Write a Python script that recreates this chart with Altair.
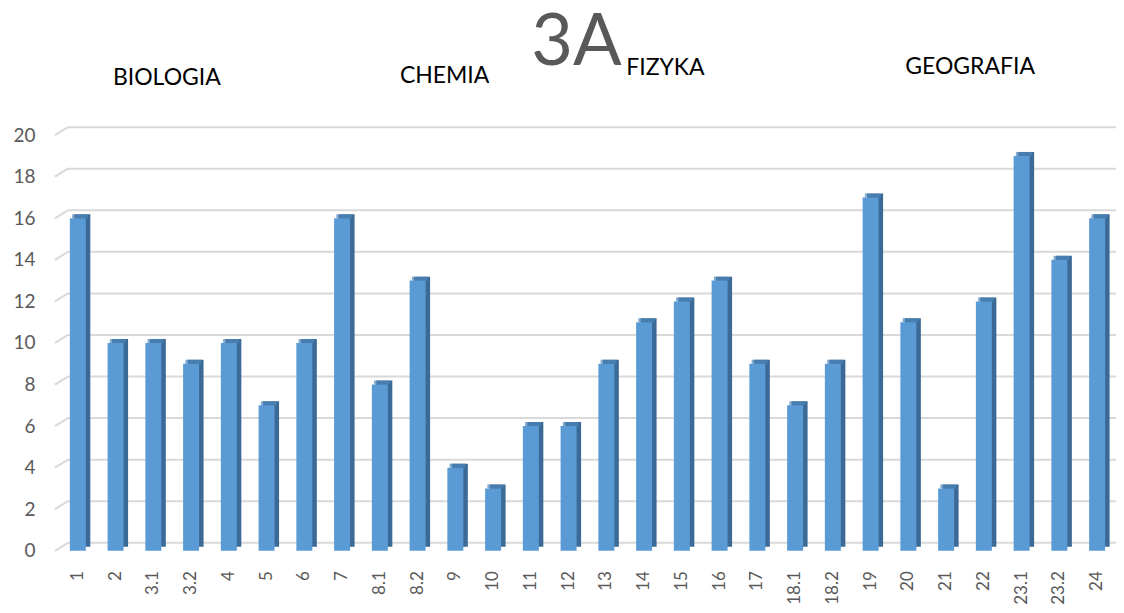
import altair as alt
import pandas as pd

categories = ["1", "2", "3.1", "3.2", "4", "5", "6", "7", "8.1", "8.2", "9", "10",
              "11", "12", "13", "14", "15", "16", "17", "18.1", "18.2", "19", "20",
              "21", "22", "23.1", "23.2", "24"]
values = [16, 10, 10, 9, 10, 7, 10, 16, 8, 13, 4, 3, 6, 6, 9, 11, 12, 13, 9, 7, 9,
          17, 11, 3, 12, 19, 14, 16]
y_ticks = [0, 2, 4, 6, 8, 10, 12, 14, 16, 18, 20]
title_text = "3A"
section_labels = ["BIOLOGIA", "CHEMIA", "FIZYKA", "GEOGRAFIA"]

df = pd.DataFrame({"cat": categories, "val": values})
grid_df = pd.DataFrame({"v": y_ticks})

FONT = "Lato"
W, H = 1058, 416

xenc = alt.X("cat:N", sort=categories,
             scale=alt.Scale(paddingInner=0, paddingOuter=0),
             axis=alt.Axis(title=None, labelAngle=270, labelFontSize=17,
                           labelColor="#595959", labelFont=FONT, labelPadding=20,
                           domain=False, ticks=False, grid=False))
yscale = alt.Scale(domain=[0, 20], nice=False)

grid_h = alt.Chart(grid_df).mark_rule(color="#d9d9d9", strokeWidth=2, yOffset=-8).encode(
    y=alt.Y("v:Q", scale=yscale,
            axis=alt.Axis(title=None, values=y_ticks, labelFontSize=19, labelColor="#595959",
                          labelFont=FONT, labelPadding=24, domain=False, ticks=False,
                          grid=False)),
    x=alt.value(9), x2=alt.value(W + 3))
grid_d = alt.Chart(grid_df).mark_rule(color="#d9d9d9", strokeWidth=2, y2Offset=-8).encode(
    y=alt.Y("v:Q", scale=yscale), y2=alt.Y2("v:Q"),
    x=alt.value(-4), x2=alt.value(9))

base = alt.Chart(df)
side = base.mark_bar(color="#3b6a96", width=16, xOffset=4.5, yOffset=-4).encode(
    x=xenc, y=alt.Y("val:Q", scale=yscale))
top = base.mark_tick(color="#4f86bb", thickness=4, size=16, orient="horizontal",
                     xOffset=2.25, yOffset=-2).encode(
    x=xenc, y=alt.Y("val:Q", scale=yscale))
front = base.mark_bar(color="#5b9bd5", width=16).encode(
    x=xenc, y=alt.Y("val:Q", scale=yscale))

def label(text, x, y, size, color):
    return alt.Chart(pd.DataFrame({"t": [text]})).mark_text(
        font=FONT, fontSize=size, color=color, align="center", baseline="alphabetic"
    ).encode(text="t:N", x=alt.value(x), y=alt.value(y))

texts = [
    label(title_text, 518, -70, 72, "#595959"),
    label(section_labels[0], 108, -50, 23, "#000000"),
    label(section_labels[1], 386, -52, 23, "#000000"),
    label(section_labels[2], 607, -60, 23, "#000000"),
    label(section_labels[3], 912, -61, 23, "#000000"),
]

chart = alt.layer(grid_h, grid_d, side, top, front, *texts).properties(
    width=W, height=H,
    autosize=alt.AutoSizeParams(type="none"),
    padding={"left": 51, "top": 127, "right": 0, "bottom": 54},
).configure_view(stroke=None)

chart.save("out.html", embed_options={"renderer": "svg", "actions": False})
